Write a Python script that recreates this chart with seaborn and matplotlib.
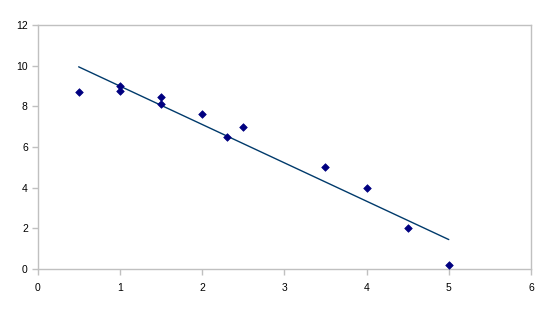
import matplotlib
matplotlib.use("Agg")
import matplotlib.pyplot as plt
import seaborn as sns
import pandas as pd

x_values = [0.5, 1.0, 1.0, 1.5, 1.5, 2.0, 2.3, 2.5, 3.5, 4.0, 4.5, 5.0]
y_values = [8.7, 9.0, 8.75, 8.45, 8.1, 7.6, 6.5, 7.0, 5.0, 4.0, 2.0, 0.2]
x_ticks = [0, 1, 2, 3, 4, 5, 6]
y_ticks = [0, 2, 4, 6, 8, 10, 12]

df = pd.DataFrame({"x": x_values, "y": y_values})

sns.set_style("white")
plt.rcParams["font.family"] = ["Liberation Sans", "DejaVu Sans"]

fig = plt.figure(figsize=(5.52, 3.12), dpi=100)
ax = fig.add_axes([0.068, 0.138, 0.894, 0.782])

sns.regplot(data=df, x="x", y="y", ax=ax, ci=None, scatter=False,
            line_kws={"color": "#003a6b", "linewidth": 1.0})
sns.scatterplot(data=df, x="x", y="y", ax=ax, marker="D", s=15,
                color="#000080", edgecolor="#000080", linewidth=0.5, zorder=3)

ax.set_xlim(0, 6)
ax.set_ylim(0, 12)
ax.set_xticks(x_ticks)
ax.set_yticks(y_ticks)
ax.set_xlabel("")
ax.set_ylabel("")
for s in ax.spines.values():
    s.set_color("#c0c0c0")
    s.set_linewidth(1.0)
ax.tick_params(axis="both", which="major", direction="out", length=4, width=1,
               color="#c0c0c0", labelsize=7.5, labelcolor="black", pad=3, bottom=True, left=True)
ax.tick_params(axis="x", pad=6)
ax.grid(False)

fig.savefig("out.png", dpi=100)
